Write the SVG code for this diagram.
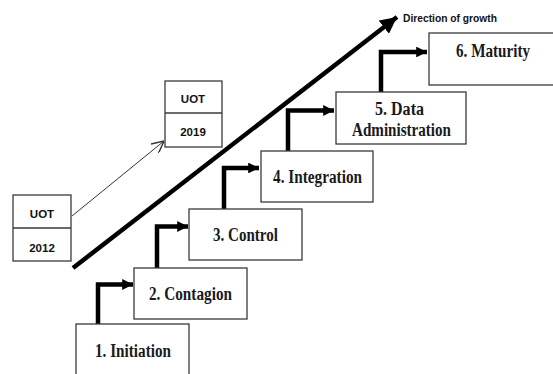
<svg xmlns="http://www.w3.org/2000/svg" width="553" height="374" viewBox="0 0 553 374">
<style>
.box{fill:#fff;stroke:#3a3a3a;stroke-width:1.3}
.st{font-family:"Liberation Serif","Times New Roman",serif;font-weight:bold;font-size:18px;fill:#1a1a1a;text-anchor:middle}
.uot{font-family:"Liberation Sans",Arial,sans-serif;font-weight:bold;font-size:11.5px;fill:#111;text-anchor:middle}
.step{fill:none;stroke:#000;stroke-width:4.5}
</style>
<defs>
<marker id="ah" viewBox="0 0 10 10" refX="10" refY="5" markerWidth="2.4" markerHeight="2.4" orient="auto" markerUnits="strokeWidth">
<path d="M0,0 L10,5 L0,10 z" fill="#000"/>
</marker>
<marker id="big" viewBox="0 0 10 10" refX="10" refY="5" markerWidth="3.7" markerHeight="3.7" orient="auto" markerUnits="strokeWidth">
<path d="M0,0 L10,5 L0,10 z" fill="#000"/>
</marker>
<marker id="open" viewBox="0 0 10 10" refX="10" refY="5" markerWidth="12" markerHeight="12" orient="auto" markerUnits="userSpaceOnUse">
<path d="M0,0 L10,5 L0,10" fill="none" stroke="#333" stroke-width="1.2"/>
</marker>
</defs>
<g id="connectors">
<line x1="73" y1="268" x2="397" y2="17" stroke="#000" stroke-width="4.5" marker-end="url(#big)"/>
<line x1="72" y1="216" x2="164" y2="141" stroke="#333" stroke-width="1" marker-end="url(#open)"/>
<path class="step" d="M98,325 V284.5 H133" marker-end="url(#ah)"/>
<path class="step" d="M157,269 V226.5 H188" marker-end="url(#ah)"/>
<path class="step" d="M224,210 V168 H259" marker-end="url(#ah)"/>
<path class="step" d="M288,152 V110.5 H334" marker-end="url(#ah)"/>
<path class="step" d="M381,93 V52 H427" marker-end="url(#ah)"/>
</g>
<text x="403" y="22" font-family="'Liberation Sans',Arial,sans-serif" font-size="11" font-weight="bold" fill="#111" textLength="94" lengthAdjust="spacingAndGlyphs">Direction of growth</text>
<g id="uot2012">
<rect class="box" x="13" y="195" width="58" height="66"/>
<line x1="13" y1="228" x2="71" y2="228" stroke="#3a3a3a" stroke-width="1.3"/>
<text class="uot" x="42" y="218">UOT</text>
<text class="uot" x="42" y="252">2012</text>
</g>
<g id="uot2019">
<rect class="box" x="165" y="81" width="57" height="66"/>
<line x1="165" y1="113" x2="222" y2="113" stroke="#3a3a3a" stroke-width="1.3"/>
<text class="uot" x="193" y="103">UOT</text>
<text class="uot" x="193" y="136">2019</text>
</g>
<g id="step1">
<rect class="box" x="76" y="324" width="113" height="60"/>
<text class="st" x="133" y="357" textLength="76" lengthAdjust="spacingAndGlyphs">1. Initiation</text>
</g>
<g id="step2">
<rect class="box" x="134" y="268" width="113" height="51"/>
<text class="st" x="190.5" y="300" textLength="83" lengthAdjust="spacingAndGlyphs">2. Contagion</text>
</g>
<g id="step3">
<rect class="box" x="189" y="209" width="113" height="51"/>
<text class="st" x="245.5" y="241" textLength="65" lengthAdjust="spacingAndGlyphs">3. Control</text>
</g>
<g id="step4">
<rect class="box" x="261" y="151" width="112" height="51"/>
<text class="st" x="317.5" y="183" textLength="89" lengthAdjust="spacingAndGlyphs">4. Integration</text>
</g>
<g id="step5">
<rect class="box" x="336" y="92" width="130" height="52"/>
<text class="st" x="399.5" y="115" textLength="49" lengthAdjust="spacingAndGlyphs">5. Data</text>
<text class="st" x="401.5" y="136" textLength="99" lengthAdjust="spacingAndGlyphs">Administration</text>
</g>
<g id="step6">
<rect class="box" x="429" y="33" width="130" height="52"/>
<text class="st" x="493" y="57" textLength="74" lengthAdjust="spacingAndGlyphs">6. Maturity</text>
</g>
</svg>
